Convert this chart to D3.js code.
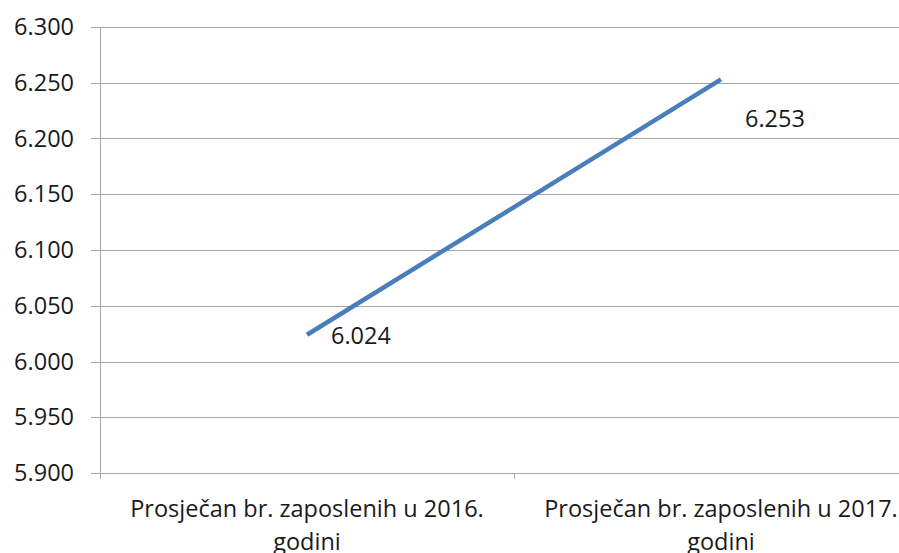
<!DOCTYPE html>
<html>
<head>
<meta charset="utf-8">
<script src="https://cdn.jsdelivr.net/npm/d3@7"></script>
<style>
  body { margin: 0; background: #fff; }
  svg { display: block; }
  text { font-family: "Open Sans", sans-serif; fill: #1a1a1a; }
</style>
</head>
<body>
<svg id="chart" width="899" height="553"></svg>
<script>
// data
var categories = [["Prosječan br. zaposlenih u 2016.", "godini"], ["Prosječan br. zaposlenih u 2017.", "godini"]];
var values = [6.024, 6.253];
var yTicks = [5.9, 5.95, 6.0, 6.05, 6.1, 6.15, 6.2, 6.25, 6.3];
var labelOffsets = [[24, 1], [24, 39]];

var svg = d3.select("#chart");
var pLeft = 100, pRight = 928, pTop = 27, pBottom = 473;

var x = d3.scaleBand().domain(d3.range(categories.length)).range([pLeft, pRight]);
var y = d3.scaleLinear().domain([5.9, 6.3]).range([pBottom, pTop]);

var fmt = function(v) { return d3.format(".3f")(v); };

// gridlines
svg.append("g").selectAll("line").data(yTicks).enter().append("line")
  .attr("x1", pLeft - 9).attr("x2", pRight)
  .attr("y1", function(d) { return Math.round(y(d)) + 0.5; })
  .attr("y2", function(d) { return Math.round(y(d)) + 0.5; })
  .attr("stroke", "#a6a6a6").attr("stroke-width", 1);

// y axis line
svg.append("line").attr("x1", pLeft + 0.5).attr("x2", pLeft + 0.5)
  .attr("y1", pTop).attr("y2", pBottom + 6)
  .attr("stroke", "#a6a6a6");

// x ticks
svg.append("g").selectAll("line").data(d3.range(categories.length + 1)).enter().append("line")
  .attr("x1", function(i) { return pLeft + i * x.bandwidth() + 0.5; })
  .attr("x2", function(i) { return pLeft + i * x.bandwidth() + 0.5; })
  .attr("y1", pBottom).attr("y2", pBottom + 6)
  .attr("stroke", "#a6a6a6");

// y labels
svg.append("g").selectAll("text").data(yTicks).enter().append("text")
  .attr("x", 74).attr("y", function(d) { return y(d); })
  .attr("dy", "0.35em").attr("text-anchor", "end")
  .style("font-size", "23.5px")
  .text(fmt);

// category labels
var cat = svg.append("g").selectAll("text").data(categories).enter().append("text")
  .attr("text-anchor", "middle")
  .style("font-size", "23.5px");
cat.each(function(lines, i) {
  var t = d3.select(this);
  lines.forEach(function(l, j) {
    t.append("tspan")
      .attr("x", x(i) + x.bandwidth() / 2)
      .attr("y", 517 + j * 33)
      .text(l);
  });
});

// line
var line = d3.line()
  .x(function(d, i) { return x(i) + x.bandwidth() / 2; })
  .y(function(d) { return y(d); });
svg.append("path").datum(values)
  .attr("d", line)
  .attr("fill", "none")
  .attr("stroke", "#4a7ebb")
  .attr("stroke-width", 4.5);

// data labels
svg.append("g").selectAll("text").data(values).enter().append("text")
  .attr("x", function(d, i) { return x(i) + x.bandwidth() / 2 + labelOffsets[i][0]; })
  .attr("y", function(d, i) { return y(d) + labelOffsets[i][1]; })
  .attr("dy", "0.35em")
  .style("font-size", "23.5px")
  .text(fmt);
</script>
</body>
</html>
